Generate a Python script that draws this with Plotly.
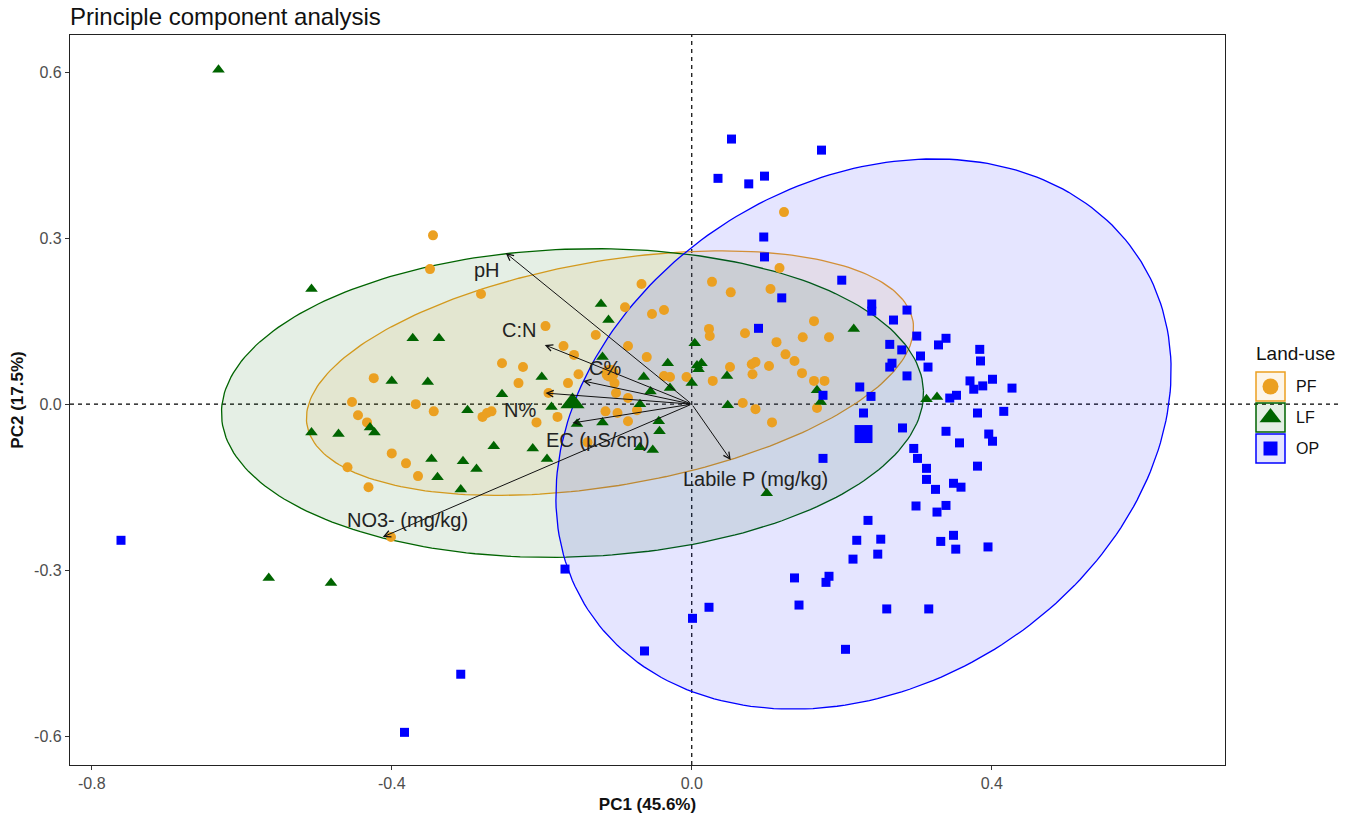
import numpy as np
import plotly.graph_objects as go

# ---------------- data ----------------
groups = ["PF", "LF", "OP"]
group_colors = ["#EBA021", "#006400", "#0000FF"]
group_fills = ["rgba(235,160,33,0.10)", "rgba(0,100,0,0.10)", "rgba(0,0,255,0.10)"]
group_symbols = ["circle", "triangle-up", "square"]

pf_x = [-0.345, -0.349, -0.281, -0.253, -0.424, -0.453, -0.368, -0.344, -0.445, -0.433,
        -0.279, -0.273, -0.267, -0.400, -0.381, -0.459, -0.365, -0.431, -0.401,
        -0.067, -0.089, -0.053, -0.037, -0.195, -0.128, -0.171, -0.085, -0.157, -0.060,
        -0.225, -0.151, -0.103, -0.037, -0.029, -0.007, -0.231, -0.165, -0.191, -0.101,
        -0.085, -0.115, -0.099, -0.073, -0.085, -0.179, -0.207, -0.139,
        0.123, 0.117, 0.027, 0.052, 0.105, 0.163, 0.023, 0.024, 0.071, 0.113,
        0.148, 0.183, 0.125, 0.137, 0.051, 0.080, 0.085, 0.103, 0.081, 0.147,
        0.028, 0.163, 0.177, 0.068, 0.085, 0.167, 0.107]
pf_y = [0.305, 0.244, 0.199, 0.074, 0.047, 0.004, 0.000, -0.013, -0.020, -0.033,
        -0.023, -0.016, -0.013, -0.089, -0.107, -0.114, -0.130, -0.150, -0.240,
        0.217, 0.175, 0.163, 0.170, 0.141, 0.125, 0.105, 0.105, 0.089, 0.085,
        0.067, 0.054, 0.038, 0.051, 0.049, 0.049, 0.038, 0.038, 0.020, 0.020,
        0.011, -0.013, -0.016, -0.011, -0.031, -0.023, -0.033, -0.069,
        0.347, 0.246, 0.221, 0.202, 0.208, 0.150, 0.136, 0.123, 0.128, 0.112,
        0.121, 0.121, 0.090, 0.078, 0.067, 0.072, 0.076, 0.069, 0.054, 0.056,
        0.042, 0.042, 0.042, 0.002, -0.009, -0.007, -0.033]

lf_x = [-0.631, -0.507, -0.564, -0.481, -0.507, -0.471, -0.372, -0.337, -0.400, -0.352,
        -0.299, -0.429, -0.423, -0.253, -0.264, -0.347, -0.305, -0.287, -0.339, -0.308,
        -0.121, -0.111, -0.119, -0.032, 0.004, 0.007, -0.200, -0.064, -0.029, 0.000,
        -0.055, -0.187, -0.119, -0.153, -0.069, -0.044, -0.043, -0.212, -0.193, -0.069, -0.052,
        0.216, 0.013, 0.009, 0.047, 0.048, 0.167, 0.172, 0.313, 0.327, 0.100]
lf_y = [0.604, 0.208, -0.314, -0.323, -0.051, -0.054, 0.119, 0.119, 0.042, 0.040,
        -0.011, -0.042, -0.051, 0.018, -0.076, -0.099, -0.103, -0.117, -0.132, -0.154,
        0.181, 0.152, 0.085, 0.074, 0.110, 0.070, 0.049, 0.049, 0.029, 0.038,
        0.023, -0.005, -0.033, -0.036, 0.000, -0.031, -0.049, -0.080, -0.099, -0.078, -0.083,
        0.136, 0.074, 0.063, 0.051, -0.002, 0.025, 0.004, 0.009, 0.013, -0.161]

op_x = [-0.761, -0.383, -0.308, -0.169, -0.063, 0.001, 0.023, 0.137, 0.143, 0.179,
        0.183, 0.205, 0.215, 0.220, 0.235, 0.248, 0.252, 0.260, 0.316, 0.299, 0.327,
        0.240, 0.240, 0.287, 0.269, 0.300, 0.264, 0.280, 0.339, 0.329, 0.305,
        0.267, 0.264, 0.315, 0.287, 0.224, 0.239, 0.175, 0.229,
        0.281, 0.175, 0.296, 0.301, 0.313, 0.313, 0.325, 0.339, 0.332, 0.349, 0.352, 0.395,
        0.384, 0.385, 0.371, 0.376, 0.388, 0.401, 0.427, 0.353, 0.344, 0.381,
        0.416, 0.339, 0.357, 0.396, 0.401, 0.381, 0.349, 0.359,
        0.053, 0.173, 0.035, 0.076, 0.097, 0.096, 0.097, 0.200, 0.120, 0.089]
op_y = [-0.246, -0.593, -0.488, -0.298, -0.446, -0.387, -0.367, -0.314, -0.363, -0.322,
        -0.311, -0.443, -0.280, -0.246, -0.210, -0.271, -0.244, -0.370, -0.370, -0.184, -0.195,
        0.181, 0.168, 0.170, 0.152, 0.123, 0.108, 0.098, 0.119, 0.107, 0.087,
        0.074, 0.067, 0.067, 0.051, 0.031, 0.014, 0.016, -0.016,
        -0.043, -0.098, -0.080, -0.098, -0.116, -0.136, -0.154, -0.183, -0.248, -0.237, -0.262, -0.258,
        0.099, 0.078, 0.042, 0.027, 0.033, 0.045, 0.029, 0.016, 0.011, -0.016,
        -0.013, -0.049, -0.070, -0.054, -0.067, -0.112, -0.143, -0.150,
        0.479, 0.459, 0.408, 0.398, 0.412, 0.302, 0.266, 0.224, 0.192, 0.137]

# group centres (means) and ellipse axes (data units)
mean_x = [-0.109, -0.159, 0.229]
mean_y = [0.056, 0.002, -0.054]
ell_major = [(0.404, 0.094), (0.468, 0.022), (0.370, 0.312)]
ell_minor = [(-0.025, 0.200), (-0.007, 0.278), (-0.177, 0.387)]

# variable loadings (arrows)
var_names = ["pH", "C:N", "C%", "N%", "EC (µS/cm)", "NO3- (mg/kg)", "Labile P (mg/kg)"]
var_x = [-0.248, -0.196, -0.145, -0.195, -0.159, -0.412, 0.052]
var_y = [0.273, 0.107, 0.042, 0.020, -0.034, -0.240, -0.101]

x_ticks = [-0.8, -0.4, 0.0, 0.4]
y_ticks = [-0.6, -0.3, 0.0, 0.3, 0.6]

# ---------------- styling ----------------
FONT = "Liberation Sans, Arial, sans-serif"
label_shift = [(-19, -17), (-26, 15), (22, 13), (-26, -17), (25, -17), (25, 17), (25, -19)]

fig = go.Figure()

pts = [(pf_x, pf_y), (lf_x, lf_y), (op_x, op_y)]
msize = [10, 11, 9]
mean_size = [17, 21, 18]

# ellipses
t = np.linspace(0, 2 * np.pi, 240)
for i, g in enumerate(groups):
    ex = mean_x[i] + ell_major[i][0] * np.cos(t) + ell_minor[i][0] * np.sin(t)
    ey = mean_y[i] + ell_major[i][1] * np.cos(t) + ell_minor[i][1] * np.sin(t)
    fig.add_trace(go.Scatter(x=ex, y=ey, mode="lines", fill="toself",
                             fillcolor=group_fills[i],
                             line=dict(color=group_colors[i], width=1.3),
                             hoverinfo="skip", showlegend=False))

# points
for i, g in enumerate(groups):
    fig.add_trace(go.Scatter(x=pts[i][0], y=pts[i][1], mode="markers", name=g,
                             marker=dict(symbol=group_symbols[i], size=msize[i],
                                         color=group_colors[i], line=dict(width=0)),
                             showlegend=False))
# means
for i, g in enumerate(groups):
    fig.add_trace(go.Scatter(x=[mean_x[i]], y=[mean_y[i]], mode="markers",
                             marker=dict(symbol=group_symbols[i], size=mean_size[i],
                                         color=group_colors[i], line=dict(width=0)),
                             showlegend=False, hoverinfo="skip"))

annotations = []
# arrows
for i, v in enumerate(var_names):
    annotations.append(dict(x=var_x[i], y=var_y[i], ax=0, ay=0, xref="x", yref="y",
                            axref="x", ayref="y", text="", showarrow=True,
                            arrowhead=5, arrowsize=1.3, arrowwidth=1, arrowcolor="#111111",
                            standoff=0))
    annotations.append(dict(x=var_x[i], y=var_y[i], xref="x", yref="y", text=v,
                            showarrow=False, xshift=label_shift[i][0], yshift=label_shift[i][1],
                            font=dict(family=FONT, size=20, color="#222222")))

# ---- manual legend (pixel-like coordinates on helper axes) ----
leg_x0, leg_x1 = 1256, 1285
leg_rows = [(372, 401), (403, 432), (434, 463)]
leg_msize = [16, 19, 14]
shapes = [
    dict(type="line", xref="x", yref="paper", x0=0, x1=0, y0=0, y1=1,
         line=dict(color="black", width=1.2, dash="4px,4px"), layer="below"),
    dict(type="line", xref="paper", yref="y", x0=0, x1=1, y0=0, y1=0,
         line=dict(color="black", width=1.2, dash="4px,4px"), layer="below"),
]
for i, g in enumerate(groups):
    r0, r1 = leg_rows[i]
    shapes.append(dict(type="rect", xref="x2", yref="y2", x0=leg_x0, x1=leg_x1, y0=r0, y1=r1,
                       line=dict(color=group_colors[i], width=1.5), fillcolor=group_fills[i],
                       layer="below"))
    fig.add_trace(go.Scatter(x=[(leg_x0 + leg_x1) / 2], y=[(r0 + r1) / 2], xaxis="x2", yaxis="y2",
                             mode="markers", showlegend=False, hoverinfo="skip",
                             marker=dict(symbol=group_symbols[i], size=leg_msize[i],
                                         color=group_colors[i], line=dict(width=0))))
    annotations.append(dict(x=1294, y=(r0 + r1) / 2, xref="x2", yref="y2", text=g,
                            showarrow=False, xanchor="left", yanchor="middle",
                            font=dict(family=FONT, size=16, color="#111111")))
annotations.append(dict(x=1254, y=353, xref="x2", yref="y2", text="Land-use",
                        showarrow=False, xanchor="left", yanchor="middle",
                        font=dict(family=FONT, size=19, color="#111111")))

W, H = 1352, 819
ml, mr, mt, mb = 70, 10, 35, 54
pw = W - ml - mr
main_right = (1225 - ml) / pw
leg_left = (1240 - ml) / pw

fig.update_layout(
    width=W, height=H,
    margin=dict(l=ml, r=mr, t=mt, b=mb),
    paper_bgcolor="white", plot_bgcolor="white",
    font=dict(family=FONT, color="#333333"),
    title=dict(text="Principle component analysis", x=ml / W, xanchor="left",
               y=1 - 17 / H, yanchor="middle", xref="container", yref="container",
               font=dict(family=FONT, size=24, color="#111111")),
    showlegend=False,
    xaxis=dict(domain=[0, main_right], range=[-0.829, 0.711], tickvals=x_ticks,
               ticktext=[f"{v:.1f}" for v in x_ticks],
               showgrid=False, zeroline=False, showline=True, mirror=True,
               linecolor="#222222", linewidth=1.2, ticks="outside", ticklen=4,
               tickcolor="#333333", tickfont=dict(size=16, color="#4D4D4D"),
               title=dict(text="<b>PC1 (45.6%)</b>", font=dict(size=17, color="#111111"),
                          standoff=6)),
    yaxis=dict(range=[-0.652, 0.667], tickvals=y_ticks,
               ticktext=[f"{v:.1f}" for v in y_ticks],
               showgrid=False, zeroline=False, showline=True, mirror=True,
               linecolor="#222222", linewidth=1.2, ticks="outside", ticklen=4,
               tickcolor="#333333", tickfont=dict(size=16, color="#4D4D4D"),
               title=dict(text="<b>PC2 (17.5%)</b>", font=dict(size=17, color="#111111"),
                          standoff=6)),
    xaxis2=dict(domain=[leg_left, 1.0], range=[1240, W - mr], anchor="y2",
                visible=False, fixedrange=True),
    yaxis2=dict(domain=[0, 1], range=[H - mb, mt], anchor="x2",
                visible=False, fixedrange=True),
    shapes=shapes,
    annotations=annotations,
)

fig.write_html("out.html", config={"displayModeBar": False},
               post_script="document.body.style.margin='0';")
